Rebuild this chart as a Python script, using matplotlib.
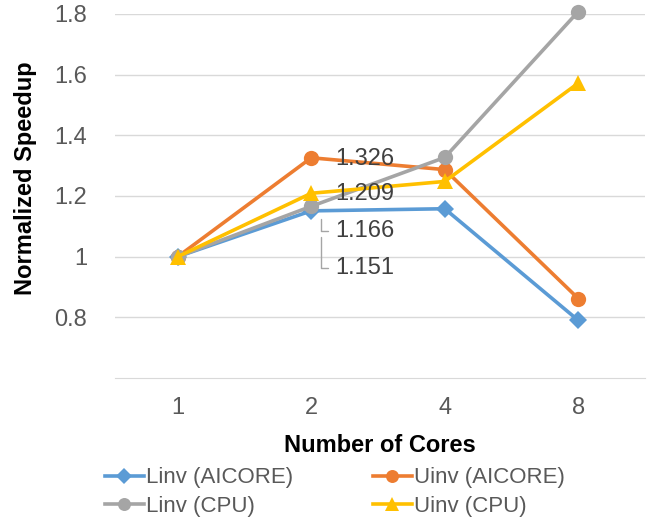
import matplotlib
matplotlib.use('Agg')
import matplotlib.pyplot as plt

# data
cores = ['1', '2', '4', '8']
linv_aicore = [1.0, 1.151, 1.158, 0.79]
uinv_aicore = [1.0, 1.326, 1.287, 0.862]
linv_cpu = [1.0, 1.166, 1.327, 1.808]
uinv_cpu = [1.0, 1.209, 1.248, 1.572]

yticks = [0.8, 1.0, 1.2, 1.4, 1.6, 1.8]
yticklabels = ['0.8', '1', '1.2', '1.4', '1.6', '1.8']

# Office palette
C_BLUE = '#5B9BD5'
C_ORANGE = '#ED7D31'
C_GRAY = '#A5A5A5'
C_YELLOW = '#FFC000'
C_GRID = '#D9D9D9'
C_TEXT = '#595959'
FS = 17

plt.rcParams['font.family'] = ['Liberation Sans', 'DejaVu Sans']

fig = plt.figure(figsize=(6.5, 5.27), dpi=100)
ax = fig.add_axes([115 / 650, 1 - 378 / 527, 530 / 650, 364 / 527])

x = list(range(len(cores)))
series = [
    ('Linv (AICORE)', linv_aicore, C_BLUE, 'D', 9),
    ('Uinv (AICORE)', uinv_aicore, C_ORANGE, 'o', 11),
    ('Linv (CPU)', linv_cpu, C_GRAY, 'o', 11),
    ('Uinv (CPU)', uinv_cpu, C_YELLOW, '^', 12),
]
handles = {}
for label, vals, col, mk, ms in series:
    h, = ax.plot(x, vals, color=col, lw=2.6, marker=mk, markersize=ms,
                 markeredgewidth=0, label=label, clip_on=False, zorder=3)
    handles[label] = h

# data labels at 2 cores
lab_kw = dict(fontsize=FS, color='#404040', va='center', ha='left')
leader = dict(arrowstyle='-', color=C_GRAY, lw=1,
              connectionstyle='angle,angleA=0,angleB=90,rad=0',
              shrinkA=3, shrinkB=0)
ax.annotate(f'{uinv_aicore[1]:.3f}', xy=(1, uinv_aicore[1]), xytext=(1.18, 1.323),
            zorder=4, **lab_kw)
ax.annotate(f'{uinv_cpu[1]:.3f}', xy=(1, uinv_cpu[1]), xytext=(1.18, 1.207),
            zorder=4, **lab_kw)
ax.annotate(f'{linv_cpu[1]:.3f}', xy=(1.07, 1.125), xytext=(1.18, 1.085),
            zorder=2, arrowprops=leader, **lab_kw)
ax.annotate(f'{linv_aicore[1]:.3f}', xy=(1.07, 1.065), xytext=(1.18, 0.962),
            zorder=2, arrowprops=leader, **lab_kw)

ax.set_xlim(-0.47, 3.5)
ax.set_ylim(0.6, 1.8)
ax.set_xticks(x)
ax.set_xticklabels(cores)
ax.set_yticks(yticks)
ax.set_yticklabels(yticklabels)
ax.tick_params(axis='both', length=0, labelsize=FS, labelcolor=C_TEXT)
ax.tick_params(axis='y', pad=20)
ax.tick_params(axis='x', pad=14)
ax.grid(axis='y', color=C_GRID, lw=1)
ax.set_axisbelow(True)
for side in ['top', 'left', 'right']:
    ax.spines[side].set_visible(False)
ax.spines['bottom'].set_color(C_GRID)

ax.set_ylabel('Normalized Speedup', fontsize=FS, fontweight='bold')
ax.yaxis.set_label_coords(-0.148, 0.55)
ax.set_xlabel('Number of Cores', fontsize=FS, fontweight='bold')
ax.xaxis.set_label_coords(0.5, -0.155)

# legend filled column-wise, so order for row-wise reading
order = ['Linv (AICORE)', 'Linv (CPU)', 'Uinv (AICORE)', 'Uinv (CPU)']
fig.legend(handles=[handles[k] for k in order], loc='center',
           bbox_to_anchor=(0.515, 1 - 492 / 527),
           ncol=2, frameon=False, fontsize=16, handlelength=1.75,
           handletextpad=0.1, columnspacing=3.6, labelspacing=0.32,
           labelcolor=C_TEXT, markerscale=0.85)

fig.savefig('out.png', dpi=100)
